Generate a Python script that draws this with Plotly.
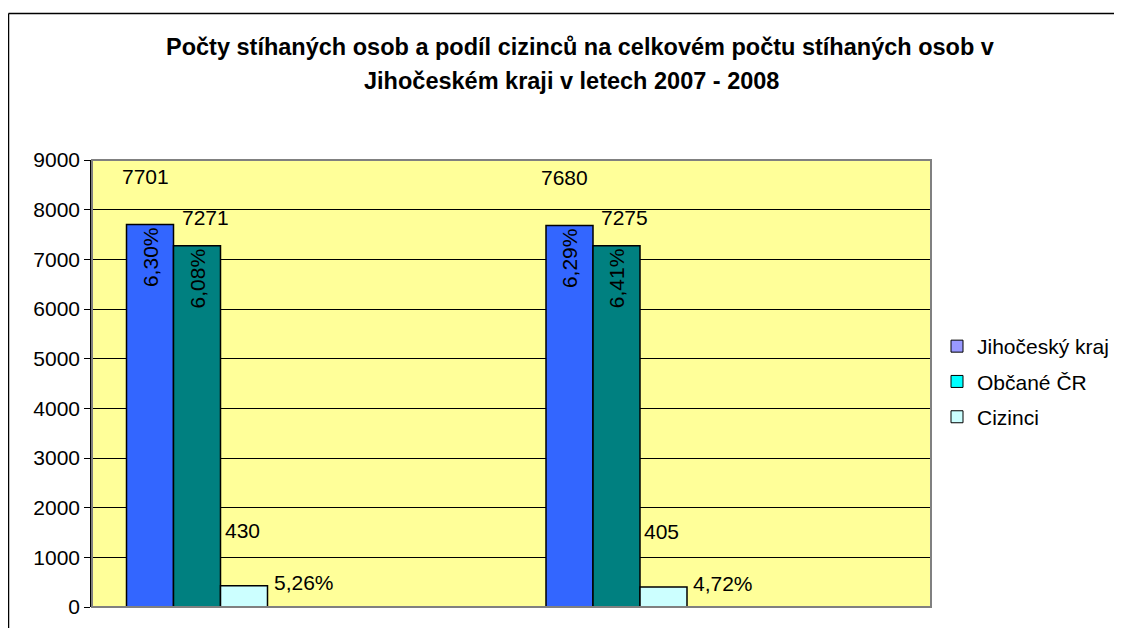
import plotly.graph_objects as go

# ---- data ----
years = ["2007", "2008"]
series_names = ["Jihočeský kraj", "Občané ČR", "Cizinci"]
jihocesky = [7701, 7680]
obcane = [7271, 7275]
cizinci = [430, 405]
pct_jihocesky = ["6,30%", "6,29%"]
pct_obcane = ["6,08%", "6,41%"]
pct_cizinci = ["5,26%", "4,72%"]
title_lines = ["Počty stíhaných osob a podíl cizinců na celkovém počtu stíhaných osob v",
               "Jihočeském kraji v letech 2007 - 2008"]

values = [jihocesky, obcane, cizinci]
pcts = [pct_jihocesky, pct_obcane, pct_cizinci]

# ---- style ----
bar_colors = ["#3366FF", "#008080", "#CCFFFF"]
legend_colors = ["#9999FF", "#00FFFF", "#CCFFFF"]
FONT = "Liberation Sans, Arial, sans-serif"
FS = 21

OFF = 8  # page body margin
W, H = 1122 - 2 * OFF, 636 - 2 * OFF
L, R, T, B = 92 - OFF, 931 - OFF, 160 - OFF, 607 - OFF  # plot area in px (figure coords)
pw, ph = R - L, B - T
cat_px = pw / 2
bw = 47 / cat_px
offsets = [-0.5 + 34.5 / cat_px + i * bw for i in range(3)]


def px_to_paper_x(px):
    return (px - OFF - L) / pw


def px_to_paper_y(py):
    return (B - (py - OFF)) / ph


xs = list(range(len(years)))

fig = go.Figure()
for i in range(3):
    fig.add_trace(go.Bar(
        x=xs, y=values[i], name=series_names[i], showlegend=False,
        width=bw, offset=offsets[i],
        marker=dict(color=bar_colors[i], line=dict(color="black", width=1.5)),
        text=pcts[i] if i < 2 else None,
        textposition="inside" if i < 2 else "none",
        textangle=-90, insidetextanchor="end",
        insidetextfont=dict(family=FONT, size=FS, color="black"),
        constraintext="none", cliponaxis=False,
    ))
# legend-only entries (legend swatches use different colours than bars)
for i in range(3):
    fig.add_trace(go.Bar(
        x=[None], y=[None], name=series_names[i], legendgroup=series_names[i],
        marker=dict(color=legend_colors[i], line=dict(color="black", width=1)),
    ))

# value labels
vx_shift = [-5, 8, -2]
vy_shift = [48, 28, 55]
for i in range(3):
    for j in xs:
        fig.add_annotation(
            x=j + offsets[i] + bw / 2, y=values[i][j], xref="x", yref="y",
            text=str(values[i][j]), showarrow=False,
            xshift=vx_shift[i], yshift=vy_shift[i],
            font=dict(family=FONT, size=FS, color="black"),
        )
# percent labels for Cizinci (outside, right of bar)
for j in xs:
    fig.add_annotation(
        x=j + offsets[2] + bw, y=cizinci[j], xref="x", yref="y",
        text=pct_cizinci[j], showarrow=False, xanchor="left", yanchor="middle",
        xshift=4, yshift=3,
        font=dict(family=FONT, size=FS, color="black"),
    )

# title (two centred lines)
for k, (cx, cy) in enumerate([(580, 47), (571, 81)]):
    fig.add_annotation(
        x=px_to_paper_x(cx), y=px_to_paper_y(cy), xref="paper", yref="paper",
        text="<b>" + title_lines[k] + "</b>", showarrow=False,
        xanchor="center", yanchor="middle",
        font=dict(family=FONT, size=23.5, color="black"),
    )

# plot area border (gray)
fig.add_shape(type="rect", xref="paper", yref="paper", x0=0, x1=1, y0=0, y1=1,
              line=dict(color="#808080", width=2), layer="above")
# outer chart border (left and top edges visible in the reference)
bx0, by0 = px_to_paper_x(8.5), px_to_paper_y(13.5)
fig.add_shape(type="line", xref="paper", yref="paper",
              x0=bx0, x1=bx0, y0=by0, y1=px_to_paper_y(700),
              line=dict(color="black", width=1.5))
fig.add_shape(type="line", xref="paper", yref="paper",
              x0=bx0, x1=px_to_paper_x(1200), y0=by0, y1=by0,
              line=dict(color="black", width=1.5))

fig.update_layout(
    width=W, height=H,
    margin=dict(l=L, r=W - R, t=T, b=H - B, autoexpand=False),
    paper_bgcolor="white", plot_bgcolor="#FFFF99",
    barmode="overlay",
    font=dict(family=FONT, size=FS, color="black"),
    xaxis=dict(range=[-0.5, 1.5], showticklabels=False, showgrid=False,
               zeroline=False, showline=False, fixedrange=True),
    yaxis=dict(range=[0, 9000], dtick=1000, tickformat="d",
               showgrid=True, gridcolor="black", gridwidth=1,
               zeroline=False, showline=True, linecolor="black", linewidth=1.5,
               ticks="outside", ticklen=6, tickcolor="black",
               tickfont=dict(family=FONT, size=FS)),
    legend=dict(x=px_to_paper_x(937), y=px_to_paper_y(326),
                xanchor="left", yanchor="top",
                font=dict(family=FONT, size=FS), tracegroupgap=5,
                bgcolor="rgba(0,0,0,0)"),
)

fig.write_html("out.html")
